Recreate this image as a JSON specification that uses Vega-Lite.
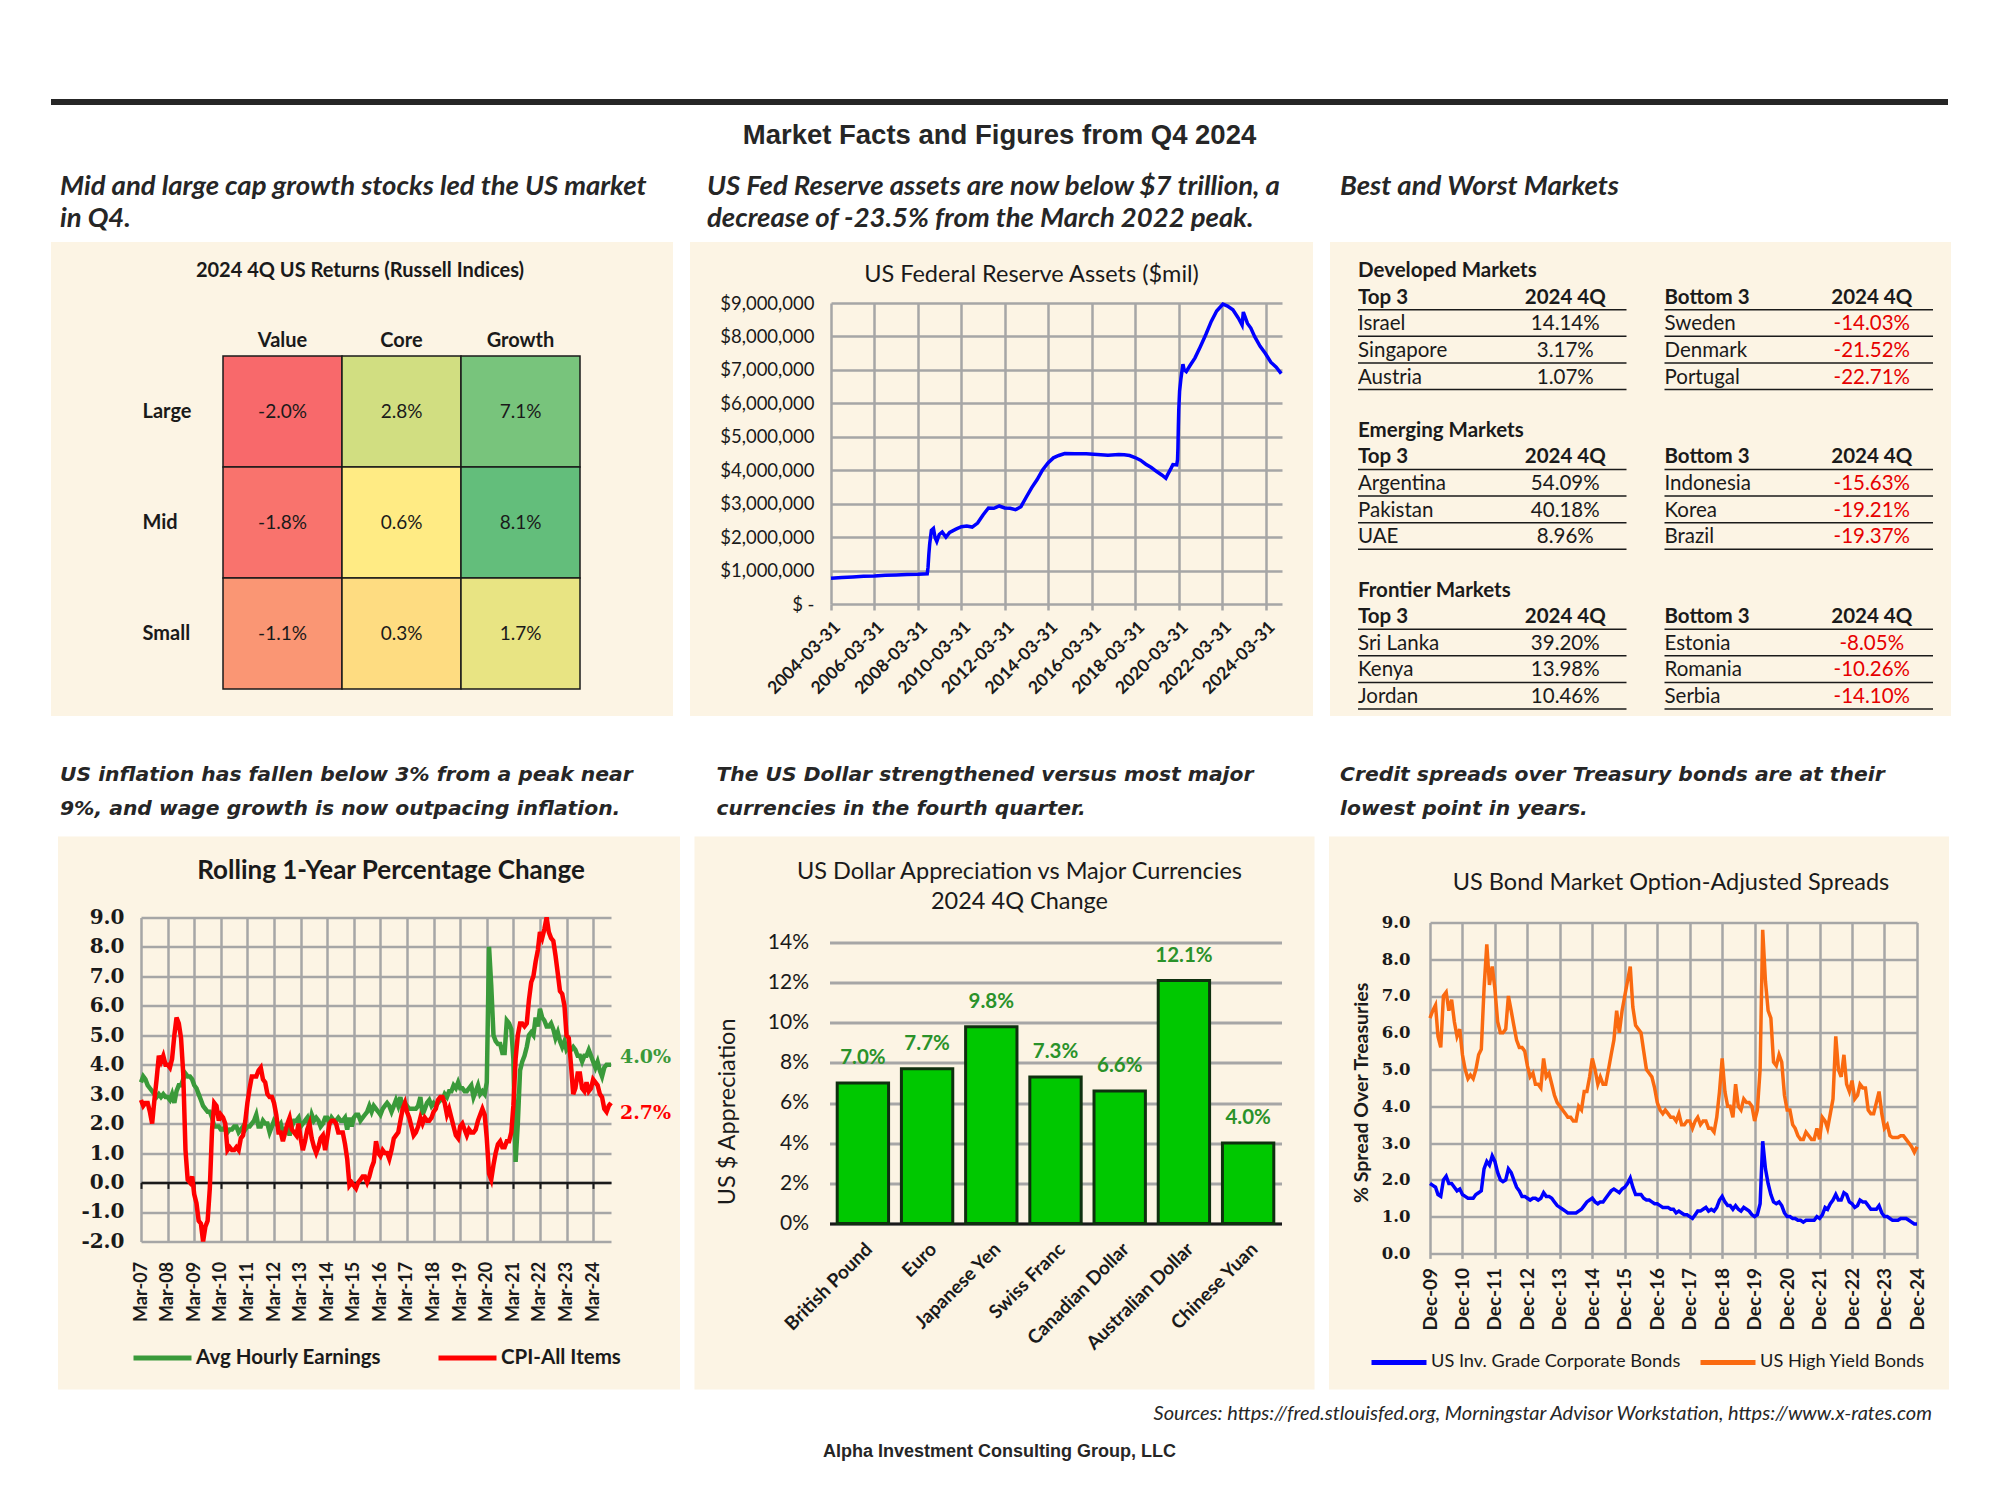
{
"$schema": "https://vega.github.io/schema/vega-lite/v6.json",
"background": "white",
"padding": {"left": 51, "top": 96, "right": 10, "bottom": 10},
"config": {
  "view": {"stroke": null},
  "font": "Lato",
  "locale": {"number": {"decimal": ".", "thousands": ",", "grouping": [3], "currency": ["$", ""], "minus": "-"}},
  "axis": {"labelColor": "#1a1a1a", "titleColor": "#1a1a1a", "labelOverlap": false, "labelFlush": false, "labelFont": "Lato", "titleFont": "Lato", "grid": false, "domain": false, "ticks": false},
  "legend": {"labelFont": "Lato", "labelColor": "#1a1a1a", "labelLimit": 400},
  "title": {"color": "#1a1a1a", "font": "Lato"}
},
"datasets": {
  "heat": [
    {"size": "Large", "style": "Value", "ret": -0.020}, {"size": "Large", "style": "Core", "ret": 0.028}, {"size": "Large", "style": "Growth", "ret": 0.071},
    {"size": "Mid", "style": "Value", "ret": -0.018}, {"size": "Mid", "style": "Core", "ret": 0.006}, {"size": "Mid", "style": "Growth", "ret": 0.081},
    {"size": "Small", "style": "Value", "ret": -0.011}, {"size": "Small", "style": "Core", "ret": 0.003}, {"size": "Small", "style": "Growth", "ret": 0.017}
  ],
  "fx": [
    {"cur": "British Pound", "v": 0.070}, {"cur": "Euro", "v": 0.077}, {"cur": "Japanese Yen", "v": 0.098}, {"cur": "Swiss Franc", "v": 0.073},
    {"cur": "Canadian Dollar", "v": 0.066}, {"cur": "Australian Dollar", "v": 0.121}, {"cur": "Chinese Yuan", "v": 0.040}
  ],
  "mkts": [
    {"row": "D0", "side": "Top 3", "k": "t", "name": "Developed Markets"},
    {"row": "D1", "side": "Top 3", "k": "h", "name": "Top 3"}, {"row": "D1", "side": "Bottom 3", "k": "h", "name": "Bottom 3"},
    {"row": "D2", "side": "Top 3", "k": "r", "name": "Israel", "v": 0.1414}, {"row": "D2", "side": "Bottom 3", "k": "r", "name": "Sweden", "v": -0.1403},
    {"row": "D3", "side": "Top 3", "k": "r", "name": "Singapore", "v": 0.0317}, {"row": "D3", "side": "Bottom 3", "k": "r", "name": "Denmark", "v": -0.2152},
    {"row": "D4", "side": "Top 3", "k": "r", "name": "Austria", "v": 0.0107}, {"row": "D4", "side": "Bottom 3", "k": "r", "name": "Portugal", "v": -0.2271},
    {"row": "E0", "side": "Top 3", "k": "t", "name": "Emerging Markets"},
    {"row": "E1", "side": "Top 3", "k": "h", "name": "Top 3"}, {"row": "E1", "side": "Bottom 3", "k": "h", "name": "Bottom 3"},
    {"row": "E2", "side": "Top 3", "k": "r", "name": "Argentina", "v": 0.5409}, {"row": "E2", "side": "Bottom 3", "k": "r", "name": "Indonesia", "v": -0.1563},
    {"row": "E3", "side": "Top 3", "k": "r", "name": "Pakistan", "v": 0.4018}, {"row": "E3", "side": "Bottom 3", "k": "r", "name": "Korea", "v": -0.1921},
    {"row": "E4", "side": "Top 3", "k": "r", "name": "UAE", "v": 0.0896}, {"row": "E4", "side": "Bottom 3", "k": "r", "name": "Brazil", "v": -0.1937},
    {"row": "F0", "side": "Top 3", "k": "t", "name": "Frontier Markets"},
    {"row": "F1", "side": "Top 3", "k": "h", "name": "Top 3"}, {"row": "F1", "side": "Bottom 3", "k": "h", "name": "Bottom 3"},
    {"row": "F2", "side": "Top 3", "k": "r", "name": "Sri Lanka", "v": 0.3920}, {"row": "F2", "side": "Bottom 3", "k": "r", "name": "Estonia", "v": -0.0805},
    {"row": "F3", "side": "Top 3", "k": "r", "name": "Kenya", "v": 0.1398}, {"row": "F3", "side": "Bottom 3", "k": "r", "name": "Romania", "v": -0.1026},
    {"row": "F4", "side": "Top 3", "k": "r", "name": "Jordan", "v": 0.1046}, {"row": "F4", "side": "Bottom 3", "k": "r", "name": "Serbia", "v": -0.1410}
  ],
  "fed": [
    {"d":"2004-03-31","v":770000},{"d":"2004-09-30","v":790000},{"d":"2005-03-31","v":810000},{"d":"2005-09-30","v":830000},
    {"d":"2006-03-31","v":840000},{"d":"2006-09-30","v":860000},{"d":"2007-03-31","v":870000},{"d":"2007-09-30","v":880000},
    {"d":"2008-03-31","v":890000},{"d":"2008-06-30","v":900000},{"d":"2008-09-03","v":905000},{"d":"2008-09-17","v":1100000},
    {"d":"2008-10-01","v":1500000},{"d":"2008-10-15","v":1800000},{"d":"2008-11-12","v":2200000},{"d":"2008-12-17","v":2260000},
    {"d":"2009-01-14","v":1980000},{"d":"2009-02-11","v":1870000},{"d":"2009-03-25","v":2080000},{"d":"2009-05-13","v":2150000},
    {"d":"2009-07-15","v":2000000},{"d":"2009-09-16","v":2140000},{"d":"2009-12-30","v":2240000},{"d":"2010-03-31","v":2310000},
    {"d":"2010-06-30","v":2330000},{"d":"2010-09-29","v":2300000},{"d":"2010-12-29","v":2420000},{"d":"2011-03-30","v":2660000},
    {"d":"2011-06-29","v":2870000},{"d":"2011-09-28","v":2860000},{"d":"2011-12-28","v":2930000},{"d":"2012-03-28","v":2870000},
    {"d":"2012-06-27","v":2860000},{"d":"2012-09-26","v":2820000},{"d":"2012-12-26","v":2910000},{"d":"2013-03-27","v":3200000},
    {"d":"2013-06-26","v":3480000},{"d":"2013-09-25","v":3720000},{"d":"2013-12-25","v":4010000},{"d":"2014-03-26","v":4220000},
    {"d":"2014-06-25","v":4370000},{"d":"2014-09-24","v":4440000},{"d":"2014-12-31","v":4500000},{"d":"2015-06-24","v":4490000},
    {"d":"2015-12-30","v":4490000},{"d":"2016-06-29","v":4470000},{"d":"2016-12-28","v":4450000},{"d":"2017-06-28","v":4470000},
    {"d":"2017-09-27","v":4460000},{"d":"2017-12-27","v":4440000},{"d":"2018-03-28","v":4380000},{"d":"2018-06-27","v":4300000},
    {"d":"2018-09-26","v":4180000},{"d":"2018-12-26","v":4080000},{"d":"2019-03-27","v":3960000},{"d":"2019-06-26","v":3850000},
    {"d":"2019-08-28","v":3760000},{"d":"2019-09-25","v":3860000},{"d":"2019-11-27","v":4070000},{"d":"2019-12-25","v":4170000},
    {"d":"2020-02-26","v":4160000},{"d":"2020-03-11","v":4310000},{"d":"2020-03-18","v":4670000},{"d":"2020-03-25","v":5300000},
    {"d":"2020-04-01","v":5810000},{"d":"2020-04-15","v":6370000},{"d":"2020-05-06","v":6720000},{"d":"2020-06-10","v":7170000},
    {"d":"2020-07-01","v":7000000},{"d":"2020-08-05","v":6950000},{"d":"2020-10-07","v":7130000},{"d":"2020-12-30","v":7360000},
    {"d":"2021-03-31","v":7700000},{"d":"2021-06-30","v":8060000},{"d":"2021-09-29","v":8450000},{"d":"2021-12-29","v":8760000},
    {"d":"2022-03-30","v":8940000},{"d":"2022-04-13","v":8965000},{"d":"2022-06-29","v":8910000},{"d":"2022-09-28","v":8800000},
    {"d":"2022-12-28","v":8550000},{"d":"2023-03-01","v":8340000},{"d":"2023-03-22","v":8730000},{"d":"2023-05-31","v":8390000},
    {"d":"2023-07-26","v":8250000},{"d":"2023-09-27","v":8000000},{"d":"2023-12-27","v":7710000},{"d":"2024-03-27","v":7490000},
    {"d":"2024-06-26","v":7230000},{"d":"2024-09-25","v":7080000},{"d":"2024-12-18","v":6890000}
  ],
  "infl": [
    {"d":"2007-03","a":3.4,"c":2.8},{"d":"2007-04","a":3.6,"c":2.6},{"d":"2007-05","a":3.5,"c":2.7},{"d":"2007-06","a":3.3,"c":2.7},{"d":"2007-07","a":3.2,"c":2.4},{"d":"2007-08","a":3.1,"c":2.0},{"d":"2007-09","a":3.0,"c":2.8},{"d":"2007-10","a":2.9,"c":3.5},{"d":"2007-11","a":3.0,"c":4.3},{"d":"2007-12","a":2.9,"c":4.1},
    {"d":"2008-01","a":3.0,"c":4.3},{"d":"2008-02","a":2.9,"c":4.0},{"d":"2008-03","a":2.9,"c":4.0},{"d":"2008-04","a":2.8,"c":3.9},{"d":"2008-05","a":3.0,"c":4.2},{"d":"2008-06","a":2.7,"c":5.0},{"d":"2008-07","a":3.1,"c":5.6},{"d":"2008-08","a":3.3,"c":5.4},{"d":"2008-09","a":3.3,"c":4.9},{"d":"2008-10","a":3.5,"c":3.7},{"d":"2008-11","a":3.7,"c":1.1},{"d":"2008-12","a":3.6,"c":0.1},
    {"d":"2009-01","a":3.6,"c":0.0},{"d":"2009-02","a":3.5,"c":0.2},{"d":"2009-03","a":3.3,"c":-0.4},{"d":"2009-04","a":3.2,"c":-0.7},{"d":"2009-05","a":3.0,"c":-1.3},{"d":"2009-06","a":2.8,"c":-1.4},{"d":"2009-07","a":2.6,"c":-2.0},{"d":"2009-08","a":2.5,"c":-1.5},{"d":"2009-09","a":2.4,"c":-1.3},{"d":"2009-10","a":2.4,"c":-0.2},{"d":"2009-11","a":2.2,"c":1.8},{"d":"2009-12","a":1.9,"c":2.7},
    {"d":"2010-01","a":1.9,"c":2.6},{"d":"2010-02","a":1.9,"c":2.1},{"d":"2010-03","a":1.8,"c":2.3},{"d":"2010-04","a":1.8,"c":2.2},{"d":"2010-05","a":1.9,"c":2.0},{"d":"2010-06","a":1.7,"c":1.1},{"d":"2010-07","a":1.8,"c":1.2},{"d":"2010-08","a":1.8,"c":1.1},{"d":"2010-09","a":1.9,"c":1.1},{"d":"2010-10","a":1.9,"c":1.2},{"d":"2010-11","a":1.7,"c":1.1},{"d":"2010-12","a":1.8,"c":1.5},
    {"d":"2011-01","a":1.9,"c":1.6},{"d":"2011-02","a":1.8,"c":2.1},{"d":"2011-03","a":1.9,"c":2.7},{"d":"2011-04","a":1.9,"c":3.2},{"d":"2011-05","a":2.0,"c":3.6},{"d":"2011-06","a":2.1,"c":3.6},{"d":"2011-07","a":2.3,"c":3.6},{"d":"2011-08","a":1.9,"c":3.8},{"d":"2011-09","a":1.9,"c":3.9},{"d":"2011-10","a":2.1,"c":3.5},{"d":"2011-11","a":2.0,"c":3.4},{"d":"2011-12","a":2.0,"c":3.0},
    {"d":"2012-01","a":1.7,"c":2.9},{"d":"2012-02","a":1.9,"c":2.9},{"d":"2012-03","a":2.1,"c":2.7},{"d":"2012-04","a":2.0,"c":2.3},{"d":"2012-05","a":1.9,"c":1.7},{"d":"2012-06","a":2.0,"c":1.7},{"d":"2012-07","a":1.7,"c":1.4},{"d":"2012-08","a":1.8,"c":1.7},{"d":"2012-09","a":1.9,"c":2.0},{"d":"2012-10","a":1.6,"c":2.2},{"d":"2012-11","a":1.9,"c":1.8},{"d":"2012-12","a":2.1,"c":1.7},
    {"d":"2013-01","a":2.1,"c":1.6},{"d":"2013-02","a":2.2,"c":2.0},{"d":"2013-03","a":1.9,"c":1.5},{"d":"2013-04","a":2.0,"c":1.1},{"d":"2013-05","a":2.1,"c":1.4},{"d":"2013-06","a":2.2,"c":1.8},{"d":"2013-07","a":1.9,"c":2.0},{"d":"2013-08","a":2.3,"c":1.5},{"d":"2013-09","a":2.1,"c":1.2},{"d":"2013-10","a":2.2,"c":1.0},{"d":"2013-11","a":2.1,"c":1.2},{"d":"2013-12","a":1.9,"c":1.5},
    {"d":"2014-01","a":2.0,"c":1.6},{"d":"2014-02","a":2.2,"c":1.1},{"d":"2014-03","a":2.2,"c":1.5},{"d":"2014-04","a":2.0,"c":2.0},{"d":"2014-05","a":2.2,"c":2.1},{"d":"2014-06","a":2.1,"c":2.1},{"d":"2014-07","a":2.1,"c":2.0},{"d":"2014-08","a":2.2,"c":1.7},{"d":"2014-09","a":2.1,"c":1.7},{"d":"2014-10","a":2.1,"c":1.7},{"d":"2014-11","a":2.2,"c":1.3},{"d":"2014-12","a":1.8,"c":0.8},
    {"d":"2015-01","a":2.2,"c":-0.1},{"d":"2015-02","a":1.9,"c":0.0},{"d":"2015-03","a":2.2,"c":-0.1},{"d":"2015-04","a":2.3,"c":-0.2},{"d":"2015-05","a":2.3,"c":0.0},{"d":"2015-06","a":2.1,"c":0.1},{"d":"2015-07","a":2.2,"c":0.2},{"d":"2015-08","a":2.3,"c":0.2},{"d":"2015-09","a":2.4,"c":0.0},{"d":"2015-10","a":2.6,"c":0.2},{"d":"2015-11","a":2.4,"c":0.5},{"d":"2015-12","a":2.6,"c":0.7},
    {"d":"2016-01","a":2.5,"c":1.4},{"d":"2016-02","a":2.4,"c":1.0},{"d":"2016-03","a":2.3,"c":0.9},{"d":"2016-04","a":2.5,"c":1.1},{"d":"2016-05","a":2.6,"c":1.0},{"d":"2016-06","a":2.7,"c":1.0},{"d":"2016-07","a":2.6,"c":0.8},{"d":"2016-08","a":2.4,"c":1.1},{"d":"2016-09","a":2.6,"c":1.5},{"d":"2016-10","a":2.8,"c":1.6},{"d":"2016-11","a":2.6,"c":1.7},{"d":"2016-12","a":2.9,"c":2.1},
    {"d":"2017-01","a":2.5,"c":2.5},{"d":"2017-02","a":2.7,"c":2.7},{"d":"2017-03","a":2.6,"c":2.4},{"d":"2017-04","a":2.5,"c":2.2},{"d":"2017-05","a":2.5,"c":1.9},{"d":"2017-06","a":2.5,"c":1.6},{"d":"2017-07","a":2.5,"c":1.7},{"d":"2017-08","a":2.6,"c":1.9},{"d":"2017-09","a":2.9,"c":2.2},{"d":"2017-10","a":2.3,"c":2.0},{"d":"2017-11","a":2.5,"c":2.2},{"d":"2017-12","a":2.7,"c":2.1},
    {"d":"2018-01","a":2.8,"c":2.1},{"d":"2018-02","a":2.6,"c":2.2},{"d":"2018-03","a":2.7,"c":2.4},{"d":"2018-04","a":2.6,"c":2.5},{"d":"2018-05","a":2.7,"c":2.8},{"d":"2018-06","a":2.8,"c":2.9},{"d":"2018-07","a":2.8,"c":2.9},{"d":"2018-08","a":3.0,"c":2.7},{"d":"2018-09","a":2.9,"c":2.3},{"d":"2018-10","a":3.1,"c":2.5},{"d":"2018-11","a":3.1,"c":2.2},{"d":"2018-12","a":3.3,"c":1.9},
    {"d":"2019-01","a":3.2,"c":1.6},{"d":"2019-02","a":3.4,"c":1.5},{"d":"2019-03","a":3.2,"c":1.9},{"d":"2019-04","a":3.2,"c":2.0},{"d":"2019-05","a":3.1,"c":1.8},{"d":"2019-06","a":3.1,"c":1.6},{"d":"2019-07","a":3.2,"c":1.8},{"d":"2019-08","a":3.3,"c":1.7},{"d":"2019-09","a":2.9,"c":1.7},{"d":"2019-10","a":3.1,"c":1.8},{"d":"2019-11","a":3.3,"c":2.1},{"d":"2019-12","a":3.0,"c":2.3},
    {"d":"2020-01","a":3.1,"c":2.5},{"d":"2020-02","a":3.0,"c":2.3},{"d":"2020-03","a":3.4,"c":1.5},{"d":"2020-04","a":8.0,"c":0.3},{"d":"2020-05","a":6.7,"c":0.1},{"d":"2020-06","a":5.0,"c":0.6},{"d":"2020-07","a":4.8,"c":1.0},{"d":"2020-08","a":4.7,"c":1.3},{"d":"2020-09","a":4.7,"c":1.4},{"d":"2020-10","a":4.4,"c":1.2},{"d":"2020-11","a":4.4,"c":1.2},{"d":"2020-12","a":5.5,"c":1.4},
    {"d":"2021-01","a":5.4,"c":1.4},{"d":"2021-02","a":5.2,"c":1.7},{"d":"2021-03","a":4.2,"c":2.6},{"d":"2021-04","a":0.7,"c":4.2},{"d":"2021-05","a":2.0,"c":5.0},{"d":"2021-06","a":3.8,"c":5.4},{"d":"2021-07","a":4.1,"c":5.4},{"d":"2021-08","a":4.3,"c":5.3},{"d":"2021-09","a":4.6,"c":5.4},{"d":"2021-10","a":5.0,"c":6.2},{"d":"2021-11","a":5.1,"c":6.8},{"d":"2021-12","a":5.0,"c":7.0},
    {"d":"2022-01","a":5.6,"c":7.5},{"d":"2022-02","a":5.3,"c":7.9},{"d":"2022-03","a":5.9,"c":8.5},{"d":"2022-04","a":5.6,"c":8.3},{"d":"2022-05","a":5.5,"c":8.6},{"d":"2022-06","a":5.3,"c":9.0},{"d":"2022-07","a":5.3,"c":8.5},{"d":"2022-08","a":5.4,"c":8.3},{"d":"2022-09","a":5.2,"c":8.2},{"d":"2022-10","a":4.9,"c":7.7},{"d":"2022-11","a":5.1,"c":7.1},{"d":"2022-12","a":4.8,"c":6.5},
    {"d":"2023-01","a":4.6,"c":6.4},{"d":"2023-02","a":4.8,"c":6.0},{"d":"2023-03","a":4.5,"c":5.0},{"d":"2023-04","a":4.6,"c":4.9},{"d":"2023-05","a":4.5,"c":4.0},{"d":"2023-06","a":4.6,"c":3.0},{"d":"2023-07","a":4.5,"c":3.2},{"d":"2023-08","a":4.3,"c":3.7},{"d":"2023-09","a":4.3,"c":3.7},{"d":"2023-10","a":4.1,"c":3.2},{"d":"2023-11","a":4.3,"c":3.1},{"d":"2023-12","a":4.3,"c":3.4},
    {"d":"2024-01","a":4.5,"c":3.1},{"d":"2024-02","a":4.3,"c":3.2},{"d":"2024-03","a":4.1,"c":3.5},{"d":"2024-04","a":3.9,"c":3.4},{"d":"2024-05","a":4.1,"c":3.3},{"d":"2024-06","a":3.8,"c":3.0},{"d":"2024-07","a":3.6,"c":2.9},{"d":"2024-08","a":3.9,"c":2.5},{"d":"2024-09","a":4.0,"c":2.4},{"d":"2024-10","a":4.0,"c":2.6},{"d":"2024-11","a":4.0,"c":2.7}
  ],
  "oas": [
    {"d":"2009-12","ig":1.90,"hy":6.40},
    {"d":"2010-01","ig":1.85,"hy":6.60},{"d":"2010-02","ig":1.80,"hy":6.75},{"d":"2010-03","ig":1.60,"hy":5.90},{"d":"2010-04","ig":1.55,"hy":5.60},{"d":"2010-05","ig":2.00,"hy":7.00},{"d":"2010-06","ig":2.10,"hy":7.10},{"d":"2010-07","ig":1.90,"hy":6.60},{"d":"2010-08","ig":1.90,"hy":6.90},{"d":"2010-09","ig":1.80,"hy":6.30},{"d":"2010-10","ig":1.70,"hy":5.90},{"d":"2010-11","ig":1.75,"hy":6.10},{"d":"2010-12","ig":1.60,"hy":5.40},
    {"d":"2011-01","ig":1.55,"hy":5.00},{"d":"2011-02","ig":1.50,"hy":4.75},{"d":"2011-03","ig":1.50,"hy":4.85},{"d":"2011-04","ig":1.50,"hy":4.75},{"d":"2011-05","ig":1.60,"hy":5.00},{"d":"2011-06","ig":1.65,"hy":5.40},{"d":"2011-07","ig":1.70,"hy":5.55},{"d":"2011-08","ig":2.30,"hy":7.20},{"d":"2011-09","ig":2.50,"hy":8.40},{"d":"2011-10","ig":2.40,"hy":7.30},{"d":"2011-11","ig":2.65,"hy":7.80},{"d":"2011-12","ig":2.50,"hy":7.20},
    {"d":"2012-01","ig":2.20,"hy":6.30},{"d":"2012-02","ig":2.00,"hy":6.00},{"d":"2012-03","ig":1.95,"hy":6.00},{"d":"2012-04","ig":2.00,"hy":6.10},{"d":"2012-05","ig":2.30,"hy":7.00},{"d":"2012-06","ig":2.20,"hy":6.60},{"d":"2012-07","ig":2.00,"hy":6.20},{"d":"2012-08","ig":1.80,"hy":5.80},{"d":"2012-09","ig":1.70,"hy":5.60},{"d":"2012-10","ig":1.55,"hy":5.60},{"d":"2012-11","ig":1.55,"hy":5.50},{"d":"2012-12","ig":1.50,"hy":5.10},
    {"d":"2013-01","ig":1.45,"hy":4.80},{"d":"2013-02","ig":1.50,"hy":4.90},{"d":"2013-03","ig":1.50,"hy":4.60},{"d":"2013-04","ig":1.45,"hy":4.60},{"d":"2013-05","ig":1.50,"hy":4.50},{"d":"2013-06","ig":1.65,"hy":5.30},{"d":"2013-07","ig":1.55,"hy":4.80},{"d":"2013-08","ig":1.55,"hy":4.90},{"d":"2013-09","ig":1.50,"hy":4.60},{"d":"2013-10","ig":1.40,"hy":4.30},{"d":"2013-11","ig":1.30,"hy":4.10},{"d":"2013-12","ig":1.25,"hy":4.00},
    {"d":"2014-01","ig":1.20,"hy":3.90},{"d":"2014-02","ig":1.15,"hy":3.80},{"d":"2014-03","ig":1.10,"hy":3.70},{"d":"2014-04","ig":1.10,"hy":3.70},{"d":"2014-05","ig":1.10,"hy":3.60},{"d":"2014-06","ig":1.10,"hy":3.60},{"d":"2014-07","ig":1.15,"hy":4.00},{"d":"2014-08","ig":1.20,"hy":3.90},{"d":"2014-09","ig":1.30,"hy":4.40},{"d":"2014-10","ig":1.40,"hy":4.40},{"d":"2014-11","ig":1.45,"hy":4.80},{"d":"2014-12","ig":1.50,"hy":5.30},
    {"d":"2015-01","ig":1.40,"hy":5.00},{"d":"2015-02","ig":1.35,"hy":4.60},{"d":"2015-03","ig":1.40,"hy":4.80},{"d":"2015-04","ig":1.40,"hy":4.60},{"d":"2015-05","ig":1.50,"hy":4.60},{"d":"2015-06","ig":1.60,"hy":5.00},{"d":"2015-07","ig":1.70,"hy":5.40},{"d":"2015-08","ig":1.75,"hy":5.80},{"d":"2015-09","ig":1.70,"hy":6.60},{"d":"2015-10","ig":1.65,"hy":6.00},{"d":"2015-11","ig":1.75,"hy":6.60},{"d":"2015-12","ig":1.80,"hy":7.00},
    {"d":"2016-01","ig":1.90,"hy":7.40},{"d":"2016-02","ig":2.05,"hy":7.80},{"d":"2016-03","ig":1.80,"hy":6.70},{"d":"2016-04","ig":1.60,"hy":6.20},{"d":"2016-05","ig":1.60,"hy":6.10},{"d":"2016-06","ig":1.60,"hy":6.00},{"d":"2016-07","ig":1.50,"hy":5.50},{"d":"2016-08","ig":1.45,"hy":5.00},{"d":"2016-09","ig":1.45,"hy":4.90},{"d":"2016-10","ig":1.40,"hy":4.80},{"d":"2016-11","ig":1.35,"hy":4.50},{"d":"2016-12","ig":1.35,"hy":4.10},
    {"d":"2017-01","ig":1.30,"hy":3.90},{"d":"2017-02","ig":1.25,"hy":3.80},{"d":"2017-03","ig":1.25,"hy":3.90},{"d":"2017-04","ig":1.25,"hy":3.80},{"d":"2017-05","ig":1.20,"hy":3.70},{"d":"2017-06","ig":1.20,"hy":3.70},{"d":"2017-07","ig":1.10,"hy":3.60},{"d":"2017-08","ig":1.15,"hy":3.80},{"d":"2017-09","ig":1.10,"hy":3.50},{"d":"2017-10","ig":1.05,"hy":3.50},{"d":"2017-11","ig":1.05,"hy":3.60},{"d":"2017-12","ig":1.00,"hy":3.60},
    {"d":"2018-01","ig":0.95,"hy":3.40},{"d":"2018-02","ig":1.05,"hy":3.60},{"d":"2018-03","ig":1.15,"hy":3.70},{"d":"2018-04","ig":1.15,"hy":3.50},{"d":"2018-05","ig":1.20,"hy":3.60},{"d":"2018-06","ig":1.25,"hy":3.60},{"d":"2018-07","ig":1.15,"hy":3.40},{"d":"2018-08","ig":1.20,"hy":3.40},{"d":"2018-09","ig":1.15,"hy":3.30},{"d":"2018-10","ig":1.25,"hy":3.70},{"d":"2018-11","ig":1.45,"hy":4.40},{"d":"2018-12","ig":1.55,"hy":5.30},
    {"d":"2019-01","ig":1.40,"hy":4.40},{"d":"2019-02","ig":1.30,"hy":4.00},{"d":"2019-03","ig":1.30,"hy":4.00},{"d":"2019-04","ig":1.20,"hy":3.70},{"d":"2019-05","ig":1.30,"hy":4.60},{"d":"2019-06","ig":1.20,"hy":4.00},{"d":"2019-07","ig":1.15,"hy":3.90},{"d":"2019-08","ig":1.25,"hy":4.20},{"d":"2019-09","ig":1.20,"hy":4.10},{"d":"2019-10","ig":1.15,"hy":4.10},{"d":"2019-11","ig":1.05,"hy":4.00},{"d":"2019-12","ig":1.00,"hy":3.60},
    {"d":"2020-01","ig":1.05,"hy":3.90},{"d":"2020-02","ig":1.35,"hy":5.00},{"d":"2020-03","ig":3.05,"hy":8.80},{"d":"2020-04","ig":2.30,"hy":7.40},{"d":"2020-05","ig":1.90,"hy":6.60},{"d":"2020-06","ig":1.60,"hy":6.40},{"d":"2020-07","ig":1.40,"hy":5.20},{"d":"2020-08","ig":1.35,"hy":5.10},{"d":"2020-09","ig":1.40,"hy":5.40},{"d":"2020-10","ig":1.30,"hy":5.20},{"d":"2020-11","ig":1.10,"hy":4.30},{"d":"2020-12","ig":1.00,"hy":3.90},
    {"d":"2021-01","ig":1.00,"hy":3.90},{"d":"2021-02","ig":0.95,"hy":3.50},{"d":"2021-03","ig":0.95,"hy":3.40},{"d":"2021-04","ig":0.90,"hy":3.20},{"d":"2021-05","ig":0.90,"hy":3.10},{"d":"2021-06","ig":0.85,"hy":3.10},{"d":"2021-07","ig":0.90,"hy":3.30},{"d":"2021-08","ig":0.90,"hy":3.20},{"d":"2021-09","ig":0.90,"hy":3.10},{"d":"2021-10","ig":0.90,"hy":3.10},{"d":"2021-11","ig":1.00,"hy":3.40},{"d":"2021-12","ig":0.95,"hy":3.10},
    {"d":"2022-01","ig":1.05,"hy":3.70},{"d":"2022-02","ig":1.25,"hy":3.60},{"d":"2022-03","ig":1.20,"hy":3.40},{"d":"2022-04","ig":1.35,"hy":3.80},{"d":"2022-05","ig":1.45,"hy":4.20},{"d":"2022-06","ig":1.60,"hy":5.90},{"d":"2022-07","ig":1.45,"hy":5.00},{"d":"2022-08","ig":1.45,"hy":4.80},{"d":"2022-09","ig":1.65,"hy":5.40},{"d":"2022-10","ig":1.60,"hy":4.60},{"d":"2022-11","ig":1.40,"hy":4.40},{"d":"2022-12","ig":1.35,"hy":4.70},
    {"d":"2023-01","ig":1.25,"hy":4.20},{"d":"2023-02","ig":1.30,"hy":4.30},{"d":"2023-03","ig":1.45,"hy":4.60},{"d":"2023-04","ig":1.40,"hy":4.50},{"d":"2023-05","ig":1.40,"hy":4.50},{"d":"2023-06","ig":1.30,"hy":3.90},{"d":"2023-07","ig":1.20,"hy":3.80},{"d":"2023-08","ig":1.20,"hy":3.80},{"d":"2023-09","ig":1.20,"hy":4.10},{"d":"2023-10","ig":1.30,"hy":4.40},{"d":"2023-11","ig":1.10,"hy":3.80},{"d":"2023-12","ig":1.00,"hy":3.40},
    {"d":"2024-01","ig":1.00,"hy":3.50},{"d":"2024-02","ig":0.95,"hy":3.20},{"d":"2024-03","ig":0.90,"hy":3.15},{"d":"2024-04","ig":0.90,"hy":3.15},{"d":"2024-05","ig":0.90,"hy":3.15},{"d":"2024-06","ig":0.95,"hy":3.20},{"d":"2024-07","ig":0.95,"hy":3.20},{"d":"2024-08","ig":0.95,"hy":3.10},{"d":"2024-09","ig":0.90,"hy":3.00},{"d":"2024-10","ig":0.85,"hy":2.90},{"d":"2024-11","ig":0.80,"hy":2.75},{"d":"2024-12","ig":0.80,"hy":2.90}
  ]
},
"spacing": 23,
"resolve": {"scale": {"color": "independent"}, "legend": {"color": "independent"}},
"vconcat": [
  {
    "width": 1897, "height": 6,
    "view": {"fill": "#262626", "stroke": null},
    "data": {"values": [{}]},
    "mark": {"type": "text", "text": ""},
    "title": {"text": "Market Facts and Figures from Q4 2024", "orient": "bottom", "anchor": "middle", "frame": "group", "baseline": "middle", "offset": 29, "font": "Liberation Sans", "fontWeight": "bold", "fontSize": 27.5, "color": "#262626"}
  },
  {
    "spacing": 48.4,
    "resolve": {"scale": {"color": "independent"}, "legend": {"color": "independent"}},
    "vconcat": [
      {
        "spacing": 17,
        "resolve": {"scale": {"color": "independent"}, "legend": {"color": "independent"}},
        "hconcat": [
          {
            "title": {"text": ["Mid and large cap growth stocks led the US market", "in Q4."], "orient": "top", "anchor": "start", "frame": "group", "baseline": "bottom", "offset": -18.5, "dx": 9, "lineHeight": 32, "font": "Lato", "fontStyle": "italic", "fontWeight": "bold", "fontSize": 27.5, "color": "#262626"},
            "vconcat": [
              {
                "width": 622, "height": 474,
                "view": {"fill": "#fcf4e4", "stroke": null},
                "title": {"text": "2024 4Q US Returns (Russell Indices)", "orient": "top", "anchor": "middle", "frame": "group", "baseline": "middle", "offset": -49, "dx": -2, "font": "Lato", "fontWeight": "bold", "fontSize": 20, "color": "#1a1a1a"},
                "data": {"name": "heat"},
                "encoding": {
                  "x": {"field": "style", "type": "nominal", "scale": {"domain": ["Value", "Core", "Growth"], "range": [172, 529], "paddingInner": 0, "paddingOuter": 0},
                        "axis": {"orient": "top", "offset": -114, "title": null, "labelAngle": 0, "labelPadding": 6, "labelFontSize": 20, "labelFontWeight": "bold"}},
                  "y": {"field": "size", "type": "nominal", "scale": {"domain": ["Large", "Mid", "Small"], "range": [114, 447], "paddingInner": 0, "paddingOuter": 0},
                        "axis": {"orient": "left", "offset": -172, "title": null, "labelAlign": "left", "labelPadding": 81, "labelFontSize": 20, "labelFontWeight": "bold"}}
                },
                "layer": [
                  {"mark": {"type": "rect", "stroke": "#1a1a1a", "strokeWidth": 1.5},
                   "encoding": {"color": {"field": "ret", "type": "quantitative", "scale": {"domain": [-0.02, 0.006, 0.081], "range": ["#F8696B", "#FFEB84", "#63BE7B"], "interpolate": "rgb"}, "legend": null}}},
                  {"mark": {"type": "text", "font": "Lato", "fontSize": 19, "color": "#1a1a1a"},
                   "encoding": {"text": {"field": "ret", "type": "quantitative", "format": ".1%"}}}
                ]
              }
            ]
          },
          {
            "title": {"text": ["US Fed Reserve assets are now below $7 trillion, a", "decrease of -23.5% from the March 2022 peak."], "orient": "top", "anchor": "start", "frame": "group", "baseline": "bottom", "offset": -18.5, "dx": 17, "lineHeight": 32, "font": "Lato", "fontStyle": "italic", "fontWeight": "bold", "fontSize": 27.5, "color": "#262626"},
            "vconcat": [
              {
                "width": 623, "height": 474,
                "view": {"fill": "#fcf4e4", "stroke": null},
                "title": {"text": "US Federal Reserve Assets ($mil)", "orient": "top", "anchor": "middle", "frame": "group", "baseline": "middle", "offset": -56.5, "dx": 30, "font": "Lato", "fontWeight": "normal", "fontSize": 23.5, "color": "#1a1a1a"},
                "data": {"name": "fed"},
                "mark": {"type": "line", "color": "#0000ff", "strokeWidth": 3.5},
                "encoding": {
                  "x": {"field": "d", "type": "temporal",
                        "scale": {"type": "utc", "domain": [{"year": 2004, "month": 3, "date": 31, "utc": true}, {"year": 2024, "month": 12, "date": 31, "utc": true}], "range": [141, 592]},
                        "axis": {"title": null, "orient": "top", "offset": -362, "labelAngle": -45, "labelAlign": "right", "labelBaseline": "top", "labelExpr": "utcFormat(datum.value, '%Y-%m-%d')",
                                 "values": [{"year": 2004, "month": 3, "date": 31, "utc": true}, {"year": 2006, "month": 3, "date": 31, "utc": true}, {"year": 2008, "month": 3, "date": 31, "utc": true}, {"year": 2010, "month": 3, "date": 31, "utc": true}, {"year": 2012, "month": 3, "date": 31, "utc": true}, {"year": 2014, "month": 3, "date": 31, "utc": true}, {"year": 2016, "month": 3, "date": 31, "utc": true}, {"year": 2018, "month": 3, "date": 31, "utc": true}, {"year": 2020, "month": 3, "date": 31, "utc": true}, {"year": 2022, "month": 3, "date": 31, "utc": true}, {"year": 2024, "month": 3, "date": 31, "utc": true}],
                                 "grid": true, "gridColor": "#a6a6a6", "gridWidth": 2.5, "ticks": true, "tickColor": "#a6a6a6", "tickSize": -6, "tickWidth": 2.5,
                                 "labelPadding": -8, "labelFontSize": 17.5, "labelFontWeight": "bold"}},
                  "y": {"field": "v", "type": "quantitative",
                        "scale": {"domain": [0, 9000000], "range": [362, 61], "nice": false, "zero": false},
                        "axis": {"title": null, "offset": -141, "values": [0, 1000000, 2000000, 3000000, 4000000, 5000000, 6000000, 7000000, 8000000, 9000000],
                                 "labelExpr": "datum.value == 0 ? '$ -  ' : format(datum.value, '$,')",
                                 "grid": true, "gridColor": "#a6a6a6", "gridWidth": 2.5, "labelPadding": 17, "labelFontSize": 18.5}}
                }
              }
            ]
          },
          {
            "title": {"text": ["Best and Worst Markets", " "], "orient": "top", "anchor": "start", "frame": "group", "baseline": "bottom", "offset": -18.5, "dx": 10, "lineHeight": 32, "font": "Lato", "fontStyle": "italic", "fontWeight": "bold", "fontSize": 27.5, "color": "#262626"},
            "vconcat": [
              {
                "width": 621, "height": 474,
                "view": {"fill": "#fcf4e4", "stroke": null},
                "data": {"name": "mkts"},
                "layer": [
                  {"transform": [{"filter": "datum.k != 't'"}],
                   "mark": {"type": "rule", "color": "#1a1a1a", "strokeWidth": 1.5, "yOffset": 12},
                   "encoding": {
                     "x": {"field": "side", "type": "nominal", "bandPosition": 0, "scale": {"domain": ["Top 3", "Bottom 3"], "range": [28, 603], "paddingInner": 0.124, "paddingOuter": 0}, "axis": null},
                     "x2": {"field": "side", "bandPosition": 1},
                     "y": {"field": "row", "type": "ordinal", "scale": {"type": "point", "domain": ["D0","D1","D2","D3","D4","g1","E0","E1","E2","E3","E4","g2","F0","F1","F2","F3","F4"], "range": [29, 455], "padding": 0}, "axis": null}
                   }},
                  {"transform": [{"filter": "datum.k != 'r'"}],
                   "mark": {"type": "text", "align": "left", "baseline": "middle", "font": "Lato", "fontWeight": "bold", "fontSize": 20.5, "color": "#1a1a1a"},
                   "encoding": {
                     "x": {"field": "side", "type": "nominal", "bandPosition": 0},
                     "y": {"field": "row", "type": "ordinal"},
                     "text": {"field": "name"}
                   }},
                  {"transform": [{"filter": "datum.k == 'h'"}],
                   "mark": {"type": "text", "align": "center", "baseline": "middle", "font": "Lato", "fontWeight": "bold", "fontSize": 20.5, "color": "#1a1a1a", "text": "2024 4Q"},
                   "encoding": {
                     "x": {"field": "side", "type": "nominal", "bandPosition": 0.772},
                     "y": {"field": "row", "type": "ordinal"}
                   }},
                  {"transform": [{"filter": "datum.k == 'r'"}],
                   "mark": {"type": "text", "align": "left", "baseline": "middle", "font": "Lato", "fontSize": 20.5, "color": "#1a1a1a"},
                   "encoding": {
                     "x": {"field": "side", "type": "nominal", "bandPosition": 0},
                     "y": {"field": "row", "type": "ordinal"},
                     "text": {"field": "name"}
                   }},
                  {"transform": [{"filter": "datum.k == 'r'"}],
                   "mark": {"type": "text", "align": "center", "baseline": "middle", "font": "Lato", "fontSize": 20.5},
                   "encoding": {
                     "x": {"field": "side", "type": "nominal", "bandPosition": 0.772},
                     "y": {"field": "row", "type": "ordinal"},
                     "text": {"field": "v", "type": "quantitative", "format": ".2%"},
                     "color": {"condition": {"test": "datum.v < 0", "value": "#e60000"}, "value": "#1a1a1a"}
                   }}
                ]
              }
            ]
          }
        ]
      },
      {
        "spacing": 15,
        "resolve": {"scale": {"color": "independent"}, "legend": {"color": "independent"}},
        "vconcat": [
          {
            "spacing": 6,
            "resolve": {"scale": {"color": "independent"}, "legend": {"color": "independent"}},
            "hconcat": [
              {"width": 1, "height": 1, "data": {"values": [{}]}, "mark": {"type": "text", "text": ""}},
              {
                "spacing": 14.5,
                "resolve": {"scale": {"color": "independent"}, "legend": {"color": "independent"}},
                "hconcat": [
                  {
                    "title": {"text": ["US inflation has fallen below 3% from a peak near", "9%, and wage growth is now outpacing inflation."], "orient": "top", "anchor": "start", "frame": "group", "baseline": "bottom", "offset": -3, "dx": 2, "lineHeight": 34, "font": "DejaVu Sans", "fontStyle": "italic", "fontWeight": "bold", "fontSize": 20.3, "color": "#262626"},
                    "vconcat": [
                      {
                        "width": 622, "height": 553,
                        "view": {"fill": "#fcf4e4", "stroke": null},
                        "title": {"text": "Rolling 1-Year Percentage Change", "orient": "top", "anchor": "middle", "frame": "group", "baseline": "middle", "offset": -60.5, "dx": 22, "font": "Lato", "fontWeight": "bold", "fontSize": 26, "color": "#1a1a1a"},
                        "data": {"name": "infl"},
                        "encoding": {
                          "x": {"field": "d", "type": "temporal",
                                "scale": {"type": "utc", "domain": [{"year": 2007, "month": 3, "date": 1, "utc": true}, {"year": 2024, "month": 11, "date": 1, "utc": true}], "range": [83, 553]},
                                "axis": {"title": null, "orient": "top", "offset": -346, "labelAngle": -90, "labelAlign": "right", "labelBaseline": "middle", "labelExpr": "utcFormat(datum.value, '%b-%y')",
                                         "values": [{"year": 2007, "month": 3, "date": 1, "utc": true}, {"year": 2008, "month": 3, "date": 1, "utc": true}, {"year": 2009, "month": 3, "date": 1, "utc": true}, {"year": 2010, "month": 3, "date": 1, "utc": true}, {"year": 2011, "month": 3, "date": 1, "utc": true}, {"year": 2012, "month": 3, "date": 1, "utc": true}, {"year": 2013, "month": 3, "date": 1, "utc": true}, {"year": 2014, "month": 3, "date": 1, "utc": true}, {"year": 2015, "month": 3, "date": 1, "utc": true}, {"year": 2016, "month": 3, "date": 1, "utc": true}, {"year": 2017, "month": 3, "date": 1, "utc": true}, {"year": 2018, "month": 3, "date": 1, "utc": true}, {"year": 2019, "month": 3, "date": 1, "utc": true}, {"year": 2020, "month": 3, "date": 1, "utc": true}, {"year": 2021, "month": 3, "date": 1, "utc": true}, {"year": 2022, "month": 3, "date": 1, "utc": true}, {"year": 2023, "month": 3, "date": 1, "utc": true}, {"year": 2024, "month": 3, "date": 1, "utc": true}],
                                         "grid": true, "gridColor": "#a6a6a6", "gridWidth": 2.5, "domain": true, "domainColor": "#1a1a1a", "domainWidth": 2.5,
                                         "ticks": true, "tickColor": "#1a1a1a", "tickSize": -6, "tickWidth": 2,
                                         "labelPadding": -73, "labelFontSize": 18, "labelFontWeight": "bold"}},
                          "y": {"type": "quantitative",
                                "scale": {"domain": [-2, 9], "range": [405, 81], "nice": false, "zero": false},
                                "axis": {"title": null, "offset": -83, "values": [-2, -1, 0, 1, 2, 3, 4, 5, 6, 7, 8, 9], "format": ".1f",
                                         "grid": true, "gridColor": "#a6a6a6", "gridWidth": 2.5, "labelPadding": 17, "labelFont": "DejaVu Serif", "labelFontSize": 20, "labelFontWeight": "bold"}}
                        },
                        "layer": [
                          {"transform": [{"fold": ["a", "c"], "as": ["key", "val"]}],
                           "mark": {"type": "line", "strokeWidth": 4.5},
                           "encoding": {
                             "y": {"field": "val"},
                             "color": {"field": "key", "type": "nominal", "scale": {"domain": ["a", "c"], "range": ["#3a9a3a", "#ff0000"]},
                                       "legend": {"title": null, "orient": "none", "legendX": 73, "legendY": 490, "direction": "horizontal", "symbolType": "stroke", "symbolSize": 3364, "symbolStrokeWidth": 5, "labelFontSize": 20.5, "labelFontWeight": "bold", "labelOffset": 2, "columnPadding": 46,
                                                  "labelExpr": "datum.label == 'a' ? 'Avg Hourly Earnings' : 'CPI-All Items'"}}
                           }},
                          {"transform": [{"filter": "utcyear(datum.d) == 2024 && utcmonth(datum.d) == 10"}],
                           "mark": {"type": "text", "align": "left", "baseline": "middle", "dx": 9, "dy": -8, "font": "DejaVu Serif", "fontWeight": "bold", "fontSize": 19, "color": "#3a9a3a"},
                           "encoding": {"y": {"field": "a", "type": "quantitative"}, "text": {"value": {"expr": "format(datum.a, '.1f') + '%'"}}}},
                          {"transform": [{"filter": "utcyear(datum.d) == 2024 && utcmonth(datum.d) == 10"}],
                           "mark": {"type": "text", "align": "left", "baseline": "middle", "dx": 9, "dy": 10, "font": "DejaVu Serif", "fontWeight": "bold", "fontSize": 19, "color": "#ff0000"},
                           "encoding": {"y": {"field": "c", "type": "quantitative"}, "text": {"value": {"expr": "format(datum.c, '.1f') + '%'"}}}}
                        ]
                      }
                    ]
                  },
                  {
                    "title": {"text": ["The US Dollar strengthened versus most major", "currencies in the fourth quarter."], "orient": "top", "anchor": "start", "frame": "group", "baseline": "bottom", "offset": -3, "dx": 22, "lineHeight": 34, "font": "DejaVu Sans", "fontStyle": "italic", "fontWeight": "bold", "fontSize": 20.3, "color": "#262626"},
                    "vconcat": [
                      {
                        "width": 620, "height": 553,
                        "view": {"fill": "#fcf4e4", "stroke": null},
                        "title": {"text": ["US Dollar Appreciation vs Major Currencies", "2024 4Q Change"], "orient": "top", "anchor": "middle", "frame": "group", "baseline": "middle", "offset": -89.5, "dx": 15, "lineHeight": 30.5, "font": "Lato", "fontWeight": "normal", "fontSize": 23.5, "color": "#1a1a1a"},
                        "data": {"name": "fx"},
                        "encoding": {
                          "x": {"field": "cur", "type": "nominal", "sort": null, "scale": {"range": [135, 587], "paddingInner": 0.2, "paddingOuter": 0.12},
                                "axis": {"title": null, "offset": -166, "labelAngle": -45, "domain": true, "domainColor": "#1a1a1a", "domainWidth": 3, "labelPadding": 16, "labelFontSize": 19, "labelFontWeight": "bold"}},
                          "y": {"field": "v", "type": "quantitative", "scale": {"domain": [0, 0.14], "range": [387, 106], "nice": false},
                                "axis": {"title": "US $ Appreciation", "titleX": -90, "titleY": 275, "titleFontSize": 23.5, "titleFontWeight": "normal",
                                         "offset": -135, "values": [0, 0.02, 0.04, 0.06, 0.08, 0.1, 0.12, 0.14], "format": ".0%",
                                         "grid": true, "gridColor": "#a6a6a6", "gridWidth": 3, "labelPadding": 21, "labelFontSize": 21}}
                        },
                        "layer": [
                          {"mark": {"type": "bar", "color": "#00c800", "stroke": "#0f300f", "strokeWidth": 3}},
                          {"mark": {"type": "text", "dy": -25, "font": "Lato", "fontWeight": "bold", "fontSize": 20.5, "color": "#2a922a"},
                           "encoding": {"text": {"field": "v", "type": "quantitative", "format": ".1%"}}}
                        ]
                      }
                    ]
                  },
                  {
                    "title": {"text": ["Credit spreads over Treasury bonds are at their", "lowest point in years."], "orient": "top", "anchor": "start", "frame": "group", "baseline": "bottom", "offset": -3, "dx": 11, "lineHeight": 34, "font": "DejaVu Sans", "fontStyle": "italic", "fontWeight": "bold", "fontSize": 20.3, "color": "#262626"},
                    "vconcat": [
                      {
                        "width": 620, "height": 553,
                        "view": {"fill": "#fcf4e4", "stroke": null},
                        "title": {"text": "US Bond Market Option-Adjusted Spreads", "orient": "top", "anchor": "middle", "frame": "group", "baseline": "middle", "offset": -70.5, "dx": 32, "font": "Lato", "fontWeight": "normal", "fontSize": 23.5, "color": "#1a1a1a"},
                        "data": {"name": "oas"},
                        "transform": [{"fold": ["ig", "hy"], "as": ["key", "val"]}],
                        "mark": {"type": "line", "strokeWidth": 3.5},
                        "encoding": {
                          "x": {"field": "d", "type": "temporal",
                                "scale": {"type": "utc", "domain": [{"year": 2009, "month": 12, "date": 1, "utc": true}, {"year": 2024, "month": 12, "date": 1, "utc": true}], "range": [101, 588]},
                                "axis": {"title": null, "orient": "top", "offset": -417, "labelAngle": -90, "labelAlign": "right", "labelBaseline": "middle", "labelExpr": "utcFormat(datum.value, '%b-%y')",
                                         "values": [{"year": 2009, "month": 12, "date": 1, "utc": true}, {"year": 2010, "month": 12, "date": 1, "utc": true}, {"year": 2011, "month": 12, "date": 1, "utc": true}, {"year": 2012, "month": 12, "date": 1, "utc": true}, {"year": 2013, "month": 12, "date": 1, "utc": true}, {"year": 2014, "month": 12, "date": 1, "utc": true}, {"year": 2015, "month": 12, "date": 1, "utc": true}, {"year": 2016, "month": 12, "date": 1, "utc": true}, {"year": 2017, "month": 12, "date": 1, "utc": true}, {"year": 2018, "month": 12, "date": 1, "utc": true}, {"year": 2019, "month": 12, "date": 1, "utc": true}, {"year": 2020, "month": 12, "date": 1, "utc": true}, {"year": 2021, "month": 12, "date": 1, "utc": true}, {"year": 2022, "month": 12, "date": 1, "utc": true}, {"year": 2023, "month": 12, "date": 1, "utc": true}, {"year": 2024, "month": 12, "date": 1, "utc": true}],
                                         "grid": true, "gridColor": "#a6a6a6", "gridWidth": 2.5, "ticks": true, "tickColor": "#a6a6a6", "tickSize": -5, "tickWidth": 2.5,
                                         "labelPadding": -9, "labelFontSize": 19, "labelFontWeight": "bold"}},
                          "y": {"field": "val", "type": "quantitative",
                                "scale": {"domain": [0, 9], "range": [417, 86], "nice": false, "zero": false},
                                "axis": {"title": "% Spread Over Treasuries", "titleX": -59, "titleY": 256, "titleFontSize": 19.5, "titleFontWeight": "bold",
                                         "offset": -101, "values": [0, 1, 2, 3, 4, 5, 6, 7, 8, 9], "format": ".1f",
                                         "grid": true, "gridColor": "#a6a6a6", "gridWidth": 2.5, "labelPadding": 20, "labelFont": "DejaVu Serif", "labelFontSize": 16.5, "labelFontWeight": "bold"}},
                          "color": {"field": "key", "type": "nominal", "scale": {"domain": ["ig", "hy"], "range": ["#0000ff", "#fa6a10"]},
                                    "legend": {"title": null, "orient": "none", "legendX": 40, "legendY": 496, "direction": "horizontal", "symbolType": "stroke", "symbolSize": 3025, "symbolStrokeWidth": 5, "labelFontSize": 18.2, "labelOffset": 2, "columnPadding": 9,
                                               "labelExpr": "datum.label == 'ig' ? 'US Inv. Grade Corporate Bonds' : 'US High Yield Bonds'"}}
                        }
                      }
                    ]
                  }
                ]
              }
            ]
          },
          {
            "width": 1897, "height": 40,
            "view": {"stroke": null},
            "data": {"values": [{"t": "Alpha Investment Consulting Group, LLC"}]},
            "mark": {"type": "text", "font": "Liberation Sans", "fontWeight": "bold", "fontSize": 18, "color": "#262626"},
            "encoding": {"text": {"field": "t"}},
            "title": {"text": "Sources: https://fred.stlouisfed.org, Morningstar Advisor Workstation, https://www.x-rates.com", "orient": "top", "anchor": "end", "frame": "group", "baseline": "middle", "offset": -2, "dx": -16, "font": "Lato", "fontStyle": "italic", "fontWeight": "normal", "fontSize": 20, "color": "#262626"}
          }
        ]
      }
    ]
  }
]
}
